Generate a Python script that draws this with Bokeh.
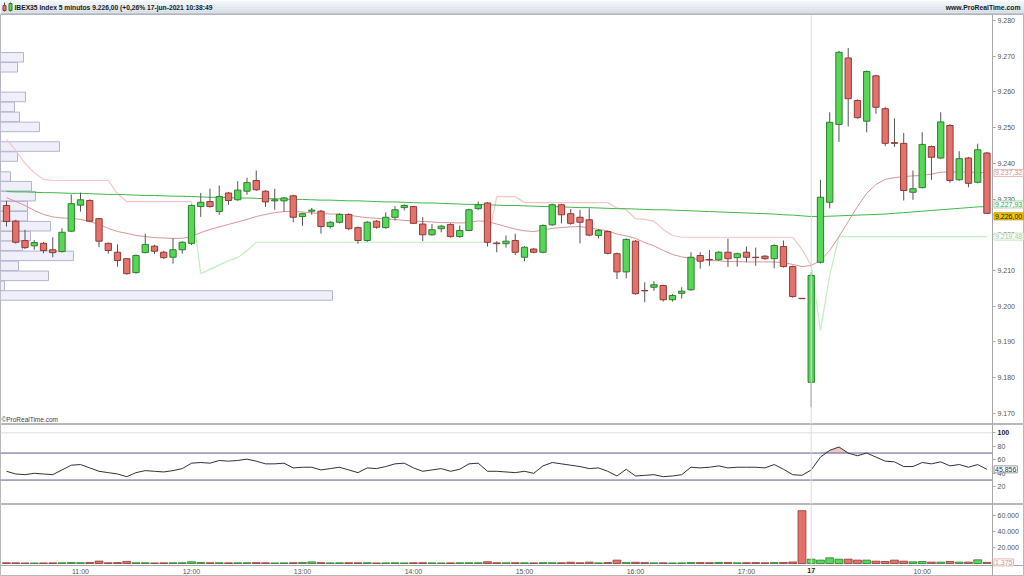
import numpy as np
from bokeh.plotting import figure
from bokeh.layouts import column
from bokeh.models import Range1d, FixedTicker, Span, Label, ColumnDataSource, LinearAxis
from bokeh.core.properties import value
from bokeh.embed import file_html
from bokeh.resources import INLINE

FONT = "Liberation Sans"

# ---------------- data ----------------
title_text = "IBEX35 Index 5 minutos 9.226,00 (+0,26% 17-jun-2021 10:38:49"
site_text = "www.ProRealTime.com"

opens = [9228.2, 9223.8, 9218.4, 9216.9, 9217.6, 9215.8, 9215.3, 9221.0, 9228.3, 9229.6,
         9224.5, 9217.6, 9215.1, 9213.3, 9209.4, 9215.0, 9216.8, 9215.1, 9213.7, 9215.8,
         9217.6, 9227.9, 9229.3, 9226.5, 9231.7, 9229.8, 9232.2, 9235.2, 9232.2, 9229.5,
         9229.5, 9230.9, 9225.1, 9226.6, 9226.6, 9222.3, 9223.5, 9225.7, 9222.0, 9218.4,
         9223.8, 9222.0, 9224.9, 9227.6, 9227.9, 9223.0, 9220.0, 9221.7, 9222.9, 9219.5,
         9221.2, 9227.3, 9228.9, 9217.7, 9217.5, 9218.4, 9213.7, 9216.0, 9215.1, 9222.8,
         9228.4, 9225.9, 9224.9, 9224.2, 9219.8, 9220.9, 9214.7, 9209.6, 9218.2, 9204.4,
         9205.3, 9205.8, 9201.8, 9203.6, 9204.6, 9214.2, 9213.1, 9213.0, 9215.1, 9213.6,
         9215.1, 9213.7, 9214.0, 9213.3, 9216.7, 9211.1, 9202.2, 9178.7, 9212.3, 9229.1,
         9250.9, 9269.5, 9257.6, 9251.8, 9264.5, 9255.3, 9245.8, 9245.6, 9231.9, 9233.2,
         9244.7, 9241.5, 9250.6, 9235.4, 9241.5, 9234.7, 9242.9]
highs = [9229.5, 9224.2, 9221.4, 9218.5, 9218.0, 9219.3, 9221.8, 9231.3, 9231.8, 9229.9,
         9224.7, 9217.8, 9217.3, 9213.5, 9214.5, 9220.3, 9217.2, 9215.5, 9219.0, 9218.2,
         9228.5, 9231.7, 9232.9, 9233.8, 9232.0, 9235.0, 9236.0, 9238.0, 9232.5, 9232.9,
         9230.6, 9231.2, 9226.2, 9227.5, 9227.0, 9223.8, 9226.0, 9226.0, 9222.3, 9223.8,
         9224.1, 9226.3, 9228.0, 9228.5, 9228.1, 9225.0, 9223.0, 9222.7, 9223.2, 9222.6,
         9227.3, 9229.3, 9229.2, 9218.2, 9219.8, 9220.3, 9216.8, 9216.3, 9222.9, 9228.7,
         9228.7, 9227.2, 9227.0, 9227.4, 9221.6, 9221.2, 9215.0, 9219.0, 9218.5, 9206.7,
         9207.0, 9206.0, 9203.4, 9205.3, 9215.1, 9215.1, 9215.7, 9215.4, 9218.9, 9215.0,
         9216.7, 9216.4, 9214.3, 9217.3, 9218.4, 9211.4, 9202.3, 9209.5, 9235.4, 9254.3,
         9271.5, 9272.3, 9257.9, 9266.0, 9264.8, 9255.8, 9252.6, 9248.5, 9238.0, 9248.7,
         9245.0, 9254.3, 9251.0, 9243.4, 9241.8, 9245.5, 9243.2]
lows = [9222.3, 9217.5, 9216.0, 9215.8, 9214.8, 9213.7, 9215.0, 9220.8, 9226.5, 9223.5,
        9216.5, 9214.7, 9211.1, 9208.8, 9209.1, 9214.8, 9214.6, 9213.2, 9211.9, 9214.7,
        9217.1, 9225.0, 9227.6, 9225.6, 9228.4, 9229.5, 9231.2, 9232.3, 9227.8, 9227.0,
        9226.5, 9223.5, 9222.5, 9225.6, 9220.3, 9221.8, 9223.2, 9221.3, 9217.5, 9218.0,
        9221.7, 9221.7, 9224.0, 9226.8, 9223.0, 9218.2, 9219.7, 9220.7, 9219.2, 9219.2,
        9221.0, 9227.0, 9216.7, 9215.1, 9216.4, 9214.3, 9212.6, 9214.8, 9214.8, 9222.5,
        9223.2, 9222.8, 9217.6, 9219.6, 9219.0, 9214.5, 9207.6, 9207.8, 9203.2, 9201.1,
        9204.3, 9201.3, 9201.3, 9202.2, 9204.3, 9210.5, 9211.3, 9212.7, 9211.0, 9211.1,
        9212.3, 9211.3, 9213.0, 9210.6, 9210.8, 9202.4, 9202.0, 9171.7, 9212.0, 9227.4,
        9246.0, 9250.3, 9252.5, 9248.7, 9253.9, 9244.8, 9244.6, 9229.6, 9229.8, 9233.0,
        9235.4, 9241.2, 9234.6, 9235.1, 9233.3, 9234.4, 9225.8]
closes = [9223.7, 9217.9, 9216.4, 9217.8, 9215.6, 9215.0, 9220.7, 9228.7, 9229.8, 9223.8,
          9218.2, 9215.6, 9212.8, 9209.1, 9214.2, 9217.3, 9215.4, 9213.6, 9215.8, 9217.9,
          9228.2, 9229.1, 9227.9, 9230.7, 9229.6, 9232.5, 9234.6, 9232.6, 9229.2, 9229.8,
          9230.3, 9224.9, 9225.9, 9226.9, 9222.3, 9223.5, 9225.7, 9221.7, 9218.4, 9223.5,
          9222.1, 9224.9, 9227.0, 9228.2, 9223.2, 9220.0, 9221.4, 9222.4, 9219.5, 9221.2,
          9227.0, 9228.4, 9217.9, 9217.5, 9218.2, 9215.1, 9216.5, 9215.1, 9222.6, 9228.4,
          9225.6, 9223.2, 9223.5, 9219.9, 9221.2, 9214.8, 9209.6, 9218.7, 9203.5, 9204.3,
          9206.0, 9201.8, 9203.0, 9204.2, 9213.7, 9212.6, 9213.0, 9215.1, 9213.3, 9214.7,
          9213.7, 9213.6, 9213.3, 9217.0, 9211.1, 9202.7, 9202.1, 9208.6, 9230.5, 9251.5,
          9271.1, 9258.1, 9252.8, 9265.7, 9255.7, 9245.6, 9245.6, 9232.4, 9232.9, 9245.3,
          9241.7, 9251.6, 9235.2, 9241.3, 9234.4, 9243.8, 9226.0]

ma_short = [9230.4, 9229.3, 9228.2, 9226.8, 9225.7, 9225.0, 9224.7, 9224.6, 9224.3, 9223.7,
            9222.9, 9221.8, 9220.9, 9220.4, 9219.8, 9219.5, 9219.2, 9219.1, 9219.0, 9219.0,
            9219.5, 9220.6, 9221.5, 9222.2, 9222.9, 9223.6, 9224.3, 9225.1, 9225.7, 9226.2,
            9226.5, 9226.5, 9226.4, 9226.1, 9226.0, 9225.8, 9225.8, 9225.5, 9225.1, 9224.8,
            9224.6, 9224.4, 9224.3, 9224.0, 9223.9, 9223.7, 9223.6, 9223.4, 9223.4, 9223.3,
            9223.4, 9223.9, 9223.7, 9223.0, 9222.3, 9221.6, 9221.1, 9220.9, 9221.3, 9221.8,
            9222.0, 9222.2, 9222.3, 9221.9, 9221.5, 9221.1, 9220.2, 9219.7, 9219.0, 9217.8,
            9216.9, 9215.6, 9214.5, 9213.8, 9213.4, 9213.1, 9212.8, 9212.7, 9212.5, 9212.5,
            9212.4, 9212.4, 9212.4, 9212.4, 9212.2, 9211.7, 9211.1, 9211.4, 9212.8, 9215.6,
            9219.5, 9223.7, 9227.9, 9231.6, 9234.1, 9235.5, 9236.0, 9236.3, 9236.5, 9236.6,
            9237.0, 9237.5, 9237.6, 9237.6, 9237.5, 9237.5, 9237.3]
ma_long = [9232.1, 9232.0, 9232.0, 9231.9, 9231.8, 9231.8, 9231.7, 9231.6, 9231.6, 9231.5,
           9231.4, 9231.3, 9231.3, 9231.2, 9231.1, 9231.0, 9231.0, 9230.9, 9230.8, 9230.8,
           9230.7, 9230.6, 9230.5, 9230.5, 9230.4, 9230.3, 9230.3, 9230.2, 9230.1, 9230.1,
           9230.0, 9229.9, 9229.9, 9229.8, 9229.7, 9229.7, 9229.6, 9229.5, 9229.5, 9229.4,
           9229.3, 9229.2, 9229.2, 9229.1, 9229.0, 9228.9, 9228.9, 9228.8, 9228.7, 9228.6,
           9228.5, 9228.5, 9228.4, 9228.3, 9228.2, 9228.2, 9228.1, 9228.0, 9227.9, 9227.9,
           9227.8, 9227.7, 9227.6, 9227.6, 9227.5, 9227.4, 9227.3, 9227.3, 9227.2, 9227.1,
           9227.0, 9227.0, 9226.9, 9226.8, 9226.7, 9226.6, 9226.5, 9226.4, 9226.3, 9226.2,
           9226.1, 9226.0, 9225.9, 9225.8, 9225.6, 9225.5, 9225.3, 9225.1, 9225.1, 9225.2,
           9225.3, 9225.4, 9225.5, 9225.6, 9225.7, 9225.8, 9226.0, 9226.2, 9226.4, 9226.6,
           9226.8, 9227.0, 9227.2, 9227.4, 9227.6, 9227.8, 9227.93]
stop_line = [9246.7, 9243.6, 9240.0, 9237.4, 9235.5, 9235.2, 9235.2, 9235.2, 9235.2, 9235.2,
             9235.2, 9235.2, 9231.5, 9229.3, 9229.3, 9229.3, 9229.3, 9229.3, 9229.3, 9229.3,
             9229.3, 9209.1, 9210.3, 9211.5, 9212.8, 9213.6, 9215.5, 9217.9, 9217.9, 9217.9,
             9217.9, 9217.9, 9217.9, 9217.9, 9217.9, 9217.9, 9217.9, 9217.9, 9217.9, 9217.9,
             9217.9, 9217.9, 9217.9, 9217.9, 9217.9, 9217.9, 9217.9, 9217.9, 9217.9, 9217.9,
             9217.9, 9217.9, 9217.9, 9230.7, 9230.7, 9230.7, 9229.0, 9229.0, 9229.0, 9229.0,
             9229.0, 9229.0, 9229.0, 9229.0, 9229.0, 9229.0, 9227.5, 9227.0, 9224.5, 9224.3,
             9223.8, 9221.5, 9219.8, 9219.3, 9219.3, 9219.3, 9219.3, 9219.3, 9219.3, 9219.3,
             9219.3, 9219.3, 9219.3, 9219.3, 9219.3, 9219.3, 9216.0, 9211.4, 9193.2, 9208.6,
             9219.48, 9219.48, 9219.48, 9219.48, 9219.48, 9219.48, 9219.48, 9219.48, 9219.48, 9219.48,
             9219.48, 9219.48, 9219.48, 9219.48, 9219.48, 9219.48, 9219.48]
stop_up = [0] * 21 + [1] * 32 + [0] * 35 + [1] * 19

rsi = [43, 39, 38, 40, 39, 38, 45, 52, 53, 48,
       43, 41, 39, 35, 41, 44, 43, 42, 44, 47,
       55, 56, 55, 59, 58, 59, 61, 58, 54, 54,
       55, 48, 49, 49, 45, 47, 49, 45, 41, 48,
       47, 50, 54, 55, 48, 43, 45, 47, 43, 46,
       54, 55, 43, 43, 42, 41, 43, 40, 51, 56,
       54, 52, 50, 47, 48, 43, 36, 46, 36, 37,
       38, 35, 36, 38, 49, 48, 49, 51, 48, 49,
       49, 49, 48, 53, 46, 38, 37, 45, 64, 74,
       79, 70, 66, 70, 64, 58, 57, 50, 50, 56,
       54, 57, 51, 53, 49, 53, 45.856]
rsi_levels = [100, 70, 30]

volume = [900, 800, 700, 600, 700, 800, 900, 1200, 1000, 1300,
          3000, 900, 1100, 2600, 1000, 900, 700, 800, 900, 1000,
          2200, 1200, 900, 1000, 800, 900, 1000, 1100, 900, 700,
          800, 1000, 1300, 2000, 1100, 800, 900, 1000, 900, 1000,
          700, 800, 900, 700, 900, 1000, 800, 700, 800, 900,
          1000, 900, 2200, 1000, 900, 1000, 900, 800, 1100, 1000,
          900, 1600, 900, 1700, 800, 1200, 4200, 1300, 1500, 1100,
          800, 900, 700, 800, 1200, 1100, 1000, 1300, 1200, 900,
          1000, 1100, 900, 1200, 1300, 1900, 66000, 5400, 4200, 7100,
          5400, 5400, 4200, 4200, 2900, 2500, 4200, 2900, 2100, 2500,
          1700, 1700, 2500, 1700, 1700, 4600, 1375]

profile_price = [9269.7, 9266.9, 9264.2, 9261.4, 9258.6, 9255.8, 9253.0, 9250.2, 9247.5, 9244.7,
                 9241.9, 9239.1, 9236.3, 9233.6, 9230.8, 9228.0, 9225.2, 9222.4, 9219.6, 9216.9,
                 9214.1, 9211.3, 9208.5, 9205.7, 9203.0]
profile_vol = [23, 17, 0, 0, 25, 14, 19, 39, 0, 59,
               17, 0, 10, 31, 35, 27, 27, 50, 30, 22,
               73, 18, 48, 4, 332]
profile_bin = 2.78

time_ticks = [8, 20, 32, 44, 56, 68, 80, 99]
time_labels = ["11:00", "12:00", "13:00", "14:00", "15:00", "16:00", "17:00", "10:00"]
day_tick = 87
day_label = "17"
price_ticks = [9170, 9180, 9190, 9200, 9210, 9220, 9230, 9240, 9250, 9260, 9270, 9280]
rsi_ticks = [20, 40, 60, 80]
rsi_top_tick = 100
vol_ticks = [20000, 40000, 60000]

# ---------------- layout constants ----------------
W = 1024
AXW = 32                     # room kept for the scale on the right
X0 = -0.65
X_AXIS = 106.6               # where the scale line sits (data units)
PXU = (W - AXW) / (X_AXIS - X0)
X1 = X0 + W / PXU
HDR_H = 14
PRICE_H = 410
RSI_H = 80
VOL_H = 72
VOL_BASE = -2500
VOL_TOP = 73750
VOL_LABEL_PX = 11
VOL_BOTTOM = VOL_BASE - VOL_LABEL_PX * (VOL_TOP - VOL_BASE) / (VOL_H - VOL_LABEL_PX)

GREEN = "#55d855"
GREEN_LINE = "#2f7d2f"
RED = "#e5716b"
RED_LINE = "#8e3b38"
AXIS_GRAY = "#a8a8a8"
LABEL_GRAY = "#555555"
SEP = "#b8b8b8"

n = len(opens)
idx = list(range(n))
up = [c >= o for o, c in zip(opens, closes)]
fill = [GREEN if u else RED for u in up]
edge = [GREEN_LINE if u else RED_LINE for u in up]
src = ColumnDataSource(dict(
    x=idx, o=opens, h=highs, l=lows, c=closes,
    top=[max(o, c) for o, c in zip(opens, closes)],
    bot=[min(o, c) for o, c in zip(opens, closes)],
    fill=fill, edge=edge, vol=volume,
))

x_range = Range1d(X0, X1)


def style_fig(p):
    p.xgrid.visible = False
    p.ygrid.visible = False
    p.outline_line_color = SEP
    p.background_fill_color = "white"
    p.border_fill_color = "white"


def style_yaxis(ax, bold=False):
    ax.fixed_location = X_AXIS
    ax.axis_line_color = AXIS_GRAY
    ax.major_tick_line_color = AXIS_GRAY
    ax.major_tick_out = 3
    ax.major_tick_in = 0
    ax.minor_tick_line_color = None
    ax.major_label_text_font = FONT
    ax.major_label_text_font_size = "7px"
    ax.major_label_text_color = "#222222" if bold else LABEL_GRAY
    ax.major_label_text_font_style = "bold" if bold else "normal"
    ax.major_label_standoff = 2


def flag(p, yv, text, tcolor, bcolor, bg="white", yoff=0):
    lab = Label(x=X_AXIS, x_offset=1.5, y=yv, y_offset=yoff, text=text,
                text_font=FONT, text_font_size="7px", text_color=tcolor,
                text_baseline="middle", text_align="left",
                background_fill_color=bg, border_line_color=bcolor, padding=1,
                level="overlay")
    p.add_layout(lab)


def base_fig(height, y_range):
    p = figure(width=W, height=height, x_range=x_range, y_range=y_range,
               toolbar_location=None, output_backend="svg", y_axis_location="right",
               x_axis_location=None,
               min_border_left=0, min_border_right=0, min_border_top=0, min_border_bottom=0)
    style_fig(p)
    p.add_layout(Span(location=day_tick, dimension="height", line_color="#dcdcdc", line_width=1))
    return p


# ---------------- header ----------------
hdr = figure(width=W, height=HDR_H, x_range=(0, W), y_range=(0, HDR_H), toolbar_location=None,
             output_backend="svg", min_border=0)
hdr.axis.visible = False
style_fig(hdr)
hdr.outline_line_color = None
grad = ["#f3f6f9", "#edf1f5", "#e7ecf1", "#e1e7ed", "#dbe2e9", "#d6dde5", "#d1d9e1"]
hdr.quad(left=[0] * 7, right=[W] * 7, top=[14 - 2 * i for i in range(7)],
         bottom=[12 - 2 * i for i in range(7)], fill_color=grad, line_color=None)
hdr.segment(x0=[0], y0=[0.5], x1=[W], y1=[0.5], line_color="#9fb0c0", line_width=1)
hdr.segment(x0=[4, 10], y0=[3, 3], x1=[4, 10], y1=[12, 12], line_color="#555", line_width=1)
hdr.quad(left=[2.5, 8.5], right=[5.5, 11.5], top=[9, 11], bottom=[4, 4],
         fill_color=[RED, GREEN], line_color=[RED_LINE, GREEN_LINE])
hdr.text(x=[14], y=[7], text=[title_text], text_font=value(FONT), text_font_size="6.7px",
         text_font_style="bold", text_baseline="middle", text_color="#1a1a1a")
hdr.text(x=[W - 4], y=[7], text=[site_text], text_font=value(FONT), text_font_size="6.8px",
         text_font_style="bold", text_baseline="middle", text_align="right", text_color="#1a1a1a")

# ---------------- price ----------------
pp = base_fig(PRICE_H, Range1d(9166.87, 9281.68))
vp_end = 992 * (X1 - X0) / (X_AXIS - X0)
pp.extra_x_ranges = {"vp": Range1d(0, vp_end)}
pp.hbar(y=profile_price, right=profile_vol, left=0, height=profile_bin * 0.96,
        x_range_name="vp", fill_color="#efeffa", line_color="#b4b4d0", line_width=1)

seg_col = ["#bfeebf" if u else "#f6c4c4" for u in stop_up[1:]]
pp.segment(x0=idx[:-1], y0=stop_line[:-1], x1=idx[1:], y1=stop_line[1:],
           line_color=seg_col, line_width=1.2)
pp.line(idx, ma_long, line_color="#3fb84a", line_width=1)
pp.line(idx, ma_short, line_color="#d99595", line_width=1)

pp.segment(x0="x", y0="l", x1="x", y1="h", source=src, line_color="#555555", line_width=1)
pp.vbar(x="x", top="top", bottom="bot", width=0.68, source=src,
        fill_color="fill", line_color="edge", line_width=1)

pp.yaxis.ticker = FixedTicker(ticks=price_ticks)
pp.yaxis.major_label_overrides = {t: "{:,}".format(t).replace(",", ".") for t in price_ticks}
style_yaxis(pp.yaxis[0])

flag(pp, 9237.32, "9.237,32", "#e08c8c", "#e6b8b8")
flag(pp, 9227.93, "9.227,93", "#3e9e3e", "#a8d4a8", yoff=2)
flag(pp, 9226.00, "9.226,00", "#111111", "#c69a00", bg="#f7c400", yoff=-3)
flag(pp, 9219.48, "9.219,48", "#9cc89c", "#c8e2c8")
pp.add_layout(Label(x=X0 + 0.1, y=9167.3, text="\u00a9ProRealTime.com", text_font=FONT,
                    text_font_size="6.5px", text_color="#444444", text_baseline="bottom"))

# ---------------- RSI ----------------
pr = base_fig(RSI_H, Range1d(-6.2, 112.3))
rsi_arr = np.array(rsi, dtype=float)
pr.varea(x=idx, y1=np.full(n, 70.0), y2=np.maximum(rsi_arr, 70.0), fill_color="#e7b7b7",
         fill_alpha=0.8)
pr.segment(x0=[X0] * 3, x1=[X_AXIS] * 3, y0=rsi_levels, y1=rsi_levels,
           line_color=["#dddddd", "#5c5c8e", "#5c5c8e"], line_width=1)
pr.line(idx, rsi, line_color="#333333", line_width=1)
pr.yaxis.ticker = FixedTicker(ticks=rsi_ticks)
style_yaxis(pr.yaxis[0])
ax100 = LinearAxis(ticker=FixedTicker(ticks=[rsi_top_tick]))
style_yaxis(ax100, bold=True)
pr.add_layout(ax100, "right")
flag(pr, rsi[-1], "45,856", "#333333", "#999999")

# ---------------- volume ----------------
pv = base_fig(VOL_H, Range1d(VOL_BOTTOM, VOL_TOP))
pv.vbar(x="x", top="vol", bottom=0, width=0.85, source=src, fill_color="fill",
        line_color="edge", line_width=0.8)
pv.yaxis.ticker = FixedTicker(ticks=vol_ticks)
pv.yaxis.major_label_overrides = {t: "{:,}".format(t).replace(",", ".") for t in vol_ticks}
style_yaxis(pv.yaxis[0])


def style_xaxis(xa, bold=False):
    xa.fixed_location = VOL_BASE
    xa.axis_line_color = AXIS_GRAY
    xa.major_tick_line_color = None
    xa.major_tick_out = 0
    xa.major_tick_in = 0
    xa.minor_tick_line_color = None
    xa.major_label_text_font = FONT
    xa.major_label_text_font_size = "7px"
    xa.major_label_text_color = "#222222" if bold else LABEL_GRAY
    xa.major_label_text_font_style = "bold" if bold else "normal"
    xa.major_label_standoff = 2


xa = LinearAxis(ticker=FixedTicker(ticks=time_ticks))
xa.major_label_overrides = dict(zip(time_ticks, time_labels))
style_xaxis(xa)
pv.add_layout(xa, "below")
xd = LinearAxis(ticker=FixedTicker(ticks=[day_tick]))
xd.major_label_overrides = {day_tick: day_label}
style_xaxis(xd, bold=True)
xd.axis_line_color = None
pv.add_layout(xd, "below")
flag(pv, volume[-1], "1.375", "#e08c8c", "#e6b8b8")

layout = column(hdr, pp, pr, pv, spacing=0)
open("out.html", "w").write(file_html(layout, INLINE))
